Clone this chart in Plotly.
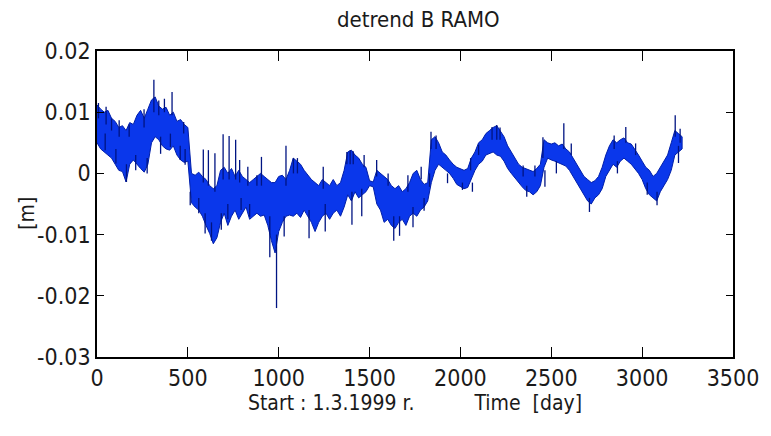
import plotly.graph_objects as go

# sampling days of the envelope (every 20 days)
days = list(range(0, 3240, 20))

# upper / lower envelope of the detrended series, in millimetres
upper_mm = [
    11.2, 10.5, 10.0, 10.3, 9.0, 8.5, 7.5, 7.8, 7.0, 8.3,
    8.0, 9.5, 10.3, 9.0, 10.5, 12.0, 12.5, 11.0, 10.5, 10.8,
    9.5, 10.0, 8.5, 8.8, 8.0, 7.5, 0.0, -0.3, 0.2, -0.5,
    -1.0, -2.0, -2.5, -2.0, 0.5, 1.0, 0.0, 0.8, -0.5, 0.5,
    -0.5, -1.0, -1.5, -1.0, -0.5, 0.0, -0.5, -1.0, -1.5, -1.5,
    -0.5, -0.3, -1.0, 0.5, 2.5, 2.0, 1.5, 0.5, -0.3, -1.0,
    -1.5, -2.0, -1.0, -1.5, -2.0, -1.0, -2.0, -1.5, 0.5, 3.5,
    3.8, 3.0, 2.5, 1.5, 1.0, -1.2, -1.4, 0.5, 0.0, -0.5,
    -1.0, -2.0, -2.5, -2.0, -3.0, -2.5, -1.5, 0.0, 0.5, -1.0,
    -1.8, -1.5, 5.5, 6.0, 5.0, 3.5, 3.0, 2.2, 1.5, 1.0,
    0.8, 0.5, 0.8, 2.5, 3.5, 5.0, 5.5, 6.5, 7.0, 7.5,
    7.8, 7.0, 6.0, 4.5, 3.5, 2.5, 1.5, 1.0, 0.8, 0.5,
    0.3, 0.8, 1.5, 5.5, 5.0, 4.8, 5.0, 4.5, 4.8, 4.0,
    3.5, 2.5, 1.5, 0.5, -0.5, -1.0, -1.5, -1.2, -0.5, 1.0,
    3.0, 4.5, 5.5, 5.0, 5.5, 5.8, 5.0, 4.8, 4.0, 3.0,
    2.0, 1.0, 0.5, -0.5, 0.0, 1.0, 2.0, 3.0, 5.0, 7.0,
    6.5, 6.0,
]
lower_mm = [
    5.0, 4.0, 3.5, 3.0, 2.5, 1.5, 0.5, 0.3, -1.4, 1.5,
    2.2, 1.5, 0.8, 0.2, 1.5, 5.0, 6.0, 5.5, 4.5, 4.0,
    3.8, 4.5, 3.0, 2.2, 1.8, 2.0, -4.8, -5.5, -6.0, -7.0,
    -8.5, -9.8, -11.5, -10.5, -8.0, -6.5, -8.5, -7.0, -6.0, -7.5,
    -6.5, -5.5, -7.5, -7.0, -6.5, -7.0, -6.8, -8.5, -11.0, -13.0,
    -9.5, -8.0, -7.0, -6.8, -7.0, -6.5, -7.2, -6.0, -7.0, -8.0,
    -9.5, -8.0, -7.0, -6.5, -7.5, -6.5, -6.0, -7.0, -5.5, -3.5,
    -4.5, -3.0, -4.0, -3.5, -3.0, -2.0, -2.2, -5.0, -6.0, -8.0,
    -7.5, -8.5, -9.0, -8.0, -7.5, -8.5, -7.0, -6.5, -7.0, -6.0,
    -5.5, -4.5, -1.5, 0.5, 1.5, 1.0, 0.5, 0.0, -0.8, -1.8,
    -2.2, -2.5, -2.3, -1.0, 0.5, 1.5, 2.0, 3.0, 3.2, 3.5,
    3.0, 2.8, 2.0, 0.8, 0.0, -0.8, -1.5, -2.2, -2.8, -3.0,
    -3.5, -3.0, -2.0, 1.0, 2.5, 2.2, 2.0, 1.8, 1.5, 1.2,
    0.5, -0.5, -1.5, -2.5, -3.5, -4.5, -5.0, -4.0, -3.5, -2.5,
    -0.5, 0.5, 1.5, 1.0, 2.0, 2.5, 2.0, 1.5, 0.8, 0.0,
    -1.0, -2.5, -3.5, -4.0, -4.5, -3.0, -2.0, -1.0, 0.5, 3.0,
    3.5, 4.0,
]

# whiskers sticking out of the band: day, base value, tip value (mm)
spike_day = [
    8, 50, 80, 122, 177, 259, 313, 340, 371, 413, 477,
    45, 104, 162, 213, 276, 350, 404, 458, 485,
    585, 613, 649, 694, 727, 763, 785, 830, 880,
    513, 560, 595, 630, 684, 720, 793, 840,
    905, 1040, 1081, 1103, 1245, 1375, 1393, 1410, 1470, 1539, 1602, 1711, 1784,
    951, 988, 1030, 1167, 1256, 1403, 1457, 1633, 1665, 1739,
    1838, 1866, 2056, 2100, 2174, 2200, 2218, 2345, 2410, 2454, 2569, 2610,
    1800, 1830, 1929, 2011, 2066, 2365, 2465, 2528,
    2846, 2910, 2964, 3182, 3209,
    2710, 2864, 3028, 3082, 3200,
]
spike_from = [
    9.0, 8.0, 7.0, 6.0, 6.0, 7.5, 10.0, 9.5, 10.0, 9.5, 6.5,
    6.5, 4.0, 1.5, 3.0, 2.5, 6.0, 6.5, 4.5, 4.0,
    -1.5, -2.0, -3.0, -1.0, -1.0, -1.0, -1.5, -2.0, -2.0,
    -3.0, -4.0, -6.5, -8.0, -6.5, -5.0, -4.0, -5.0,
    -2.0, -2.0, 0.0, 0.0, -2.5, 1.5, 1.5, 1.5, 1.0, -0.5, -2.0, -3.0, -1.0,
    -7.0, -10.0, -7.0, -6.0, -5.0, -3.0, -2.5, -7.0, -7.0, -5.5,
    4.0, 4.0, 0.5, 3.0, 5.5, 5.5, 5.5, -0.5, -0.5, 2.5, 4.0, 3.0,
    -4.0, 0.0, 0.0, -1.5, -1.5, -2.0, 0.5, 2.0,
    4.0, 5.0, 3.0, 6.0, 5.0,
    -4.0, 2.0, -1.5, -3.0, 4.5,
]
spike_to = [
    11.5, 10.9, 9.0, 8.7, 8.0, 10.5, 15.3, 11.9, 12.2, 13.3, 8.4,
    3.8, 1.6, -1.4, 0.5, 0.0, 3.2, 4.3, 2.2, 1.4,
    3.9, 3.8, 3.3, 6.4, 6.1, 5.5, 2.2, 1.1, -0.3,
    -5.2, -6.5, -9.8, -11.0, -9.2, -7.5, -6.0, -7.1,
    2.7, 4.5, 2.5, 2.5, 1.1, 3.5, 3.8, 3.6, 3.0, 2.2, 0.0, -0.3, 1.1,
    -13.7, -22.0, -10.3, -10.6, -9.5, -8.4, -7.0, -11.0, -10.2, -8.8,
    6.8, 6.2, 2.5, 4.7, 7.6, 7.9, 7.5, 1.3, 1.3, 5.9, 8.2, 4.9,
    -6.1, -2.2, -1.6, -2.7, -3.0, -3.8, -2.2, 0.0,
    6.2, 7.6, 4.9, 9.5, 7.3,
    -6.3, 0.0, -3.5, -5.2, 1.7,
]

x_ticks = [0, 500, 1000, 1500, 2000, 2500, 3000, 3500]
y_ticks = [0.02, 0.01, 0.0, -0.01, -0.02, -0.03]
y_tick_text = ["0.02", "0.01", "0", "-0.01", "-0.02", "-0.03"]

upper = [v / 1000 for v in upper_mm]
lower = [v / 1000 for v in lower_mm]

band_x = days + days[::-1]
band_y = upper + lower[::-1]

sx, sy = [], []
for d, a, b in zip(spike_day, spike_from, spike_to):
    sx += [d, d, None]
    sy += [a / 1000, b / 1000, None]

FONT = "Liberation Sans Narrow, Arial Narrow, DejaVu Sans Condensed, sans-serif"

fig = go.Figure()
fig.add_trace(go.Scatter(
    x=band_x, y=band_y, mode="lines", fill="toself",
    fillcolor="rgb(10,55,235)",
    line=dict(color="rgb(0,30,170)", width=1),
    hoverinfo="skip", showlegend=False,
))
fig.add_trace(go.Scatter(
    x=sx, y=sy, mode="lines",
    line=dict(color="rgb(0,20,130)", width=1.3),
    hoverinfo="skip", showlegend=False,
))

nb = "\u00a0"
fig.update_layout(
    width=771, height=436,
    margin=dict(l=97, r=31, t=51, b=79),
    paper_bgcolor="white", plot_bgcolor="white",
    font=dict(family=FONT, size=23, color="#1a1a1a"),
    title=dict(text="detrend B RAMO", x=0.5425, xanchor="center",
               y=0.955, yanchor="middle", font=dict(size=22)),
    xaxis=dict(
        range=[0, 3500], tickvals=x_ticks, ticks="inside", ticklen=10,
        tickwidth=1.3, tickcolor="black",
        showline=True, linecolor="black", linewidth=1.5, mirror="ticks",
        showgrid=False, zeroline=False,
        title=dict(text="Start : 1.3.1999 r." + nb * 10 + "Time" + nb * 2 + "[day]",
                   standoff=4, font=dict(size=21)),
    ),
    yaxis=dict(
        range=[-0.03, 0.02], tickvals=y_ticks, ticktext=y_tick_text,
        ticks="inside", ticklen=7, tickwidth=1.3, tickcolor="black",
        showline=True, linecolor="black", linewidth=1.5, mirror="ticks",
        showgrid=False, zeroline=False,
    ),
    annotations=[dict(
        text="[m]", textangle=-90, xref="paper", yref="paper",
        x=-0.109, y=0.47, xanchor="center", yanchor="middle",
        showarrow=False, font=dict(size=21),
    )],
)

fig.write_html("out.html")
